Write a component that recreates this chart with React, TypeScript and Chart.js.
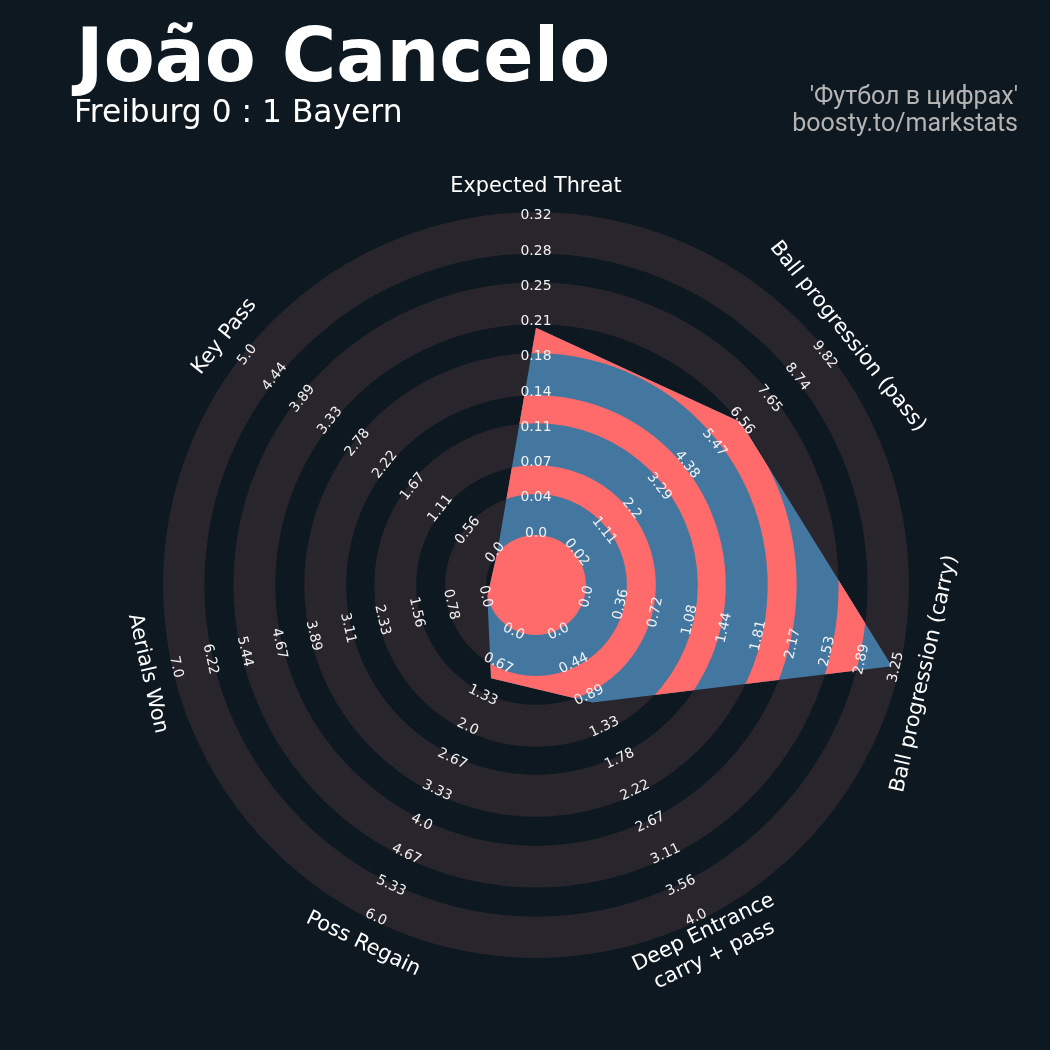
import React, { useEffect, useRef } from "react";
import { Chart, registerables } from "chart.js";

Chart.register(...registerables);

// ---- data ----
const PARAMS = [
  "Expected Threat",
  "Ball progression (pass)",
  "Ball progression (carry)",
  "Deep Entrance\ncarry + pass",
  "Poss Regain",
  "Aerials Won",
  "Key Pass",
];
const VALUES = [0.206, 6.46, 3.18, 1.0, 1.0, 0, 0];
const RANGE_MIN = [0, 0.02, 0, 0, 0, 0, 0];
const RANGE_MAX = [0.32, 9.82, 3.25, 4.0, 6.0, 7.0, 5.0];

const XT_TICKS = ["0.0", "0.04", "0.07", "0.11", "0.14", "0.18", "0.21", "0.25", "0.28", "0.32"];
const PASS_TICKS = ["0.02", "1.11", "2.2", "3.29", "4.38", "5.47", "6.56", "7.65", "8.74", "9.82"];
const CARRY_TICKS = ["0.0", "0.36", "0.72", "1.08", "1.44", "1.81", "2.17", "2.53", "2.89", "3.25"];
const DEEP_TICKS = ["0.0", "0.44", "0.89", "1.33", "1.78", "2.22", "2.67", "3.11", "3.56", "4.0"];
const REGAIN_TICKS = ["0.0", "0.67", "1.33", "2.0", "2.67", "3.33", "4.0", "4.67", "5.33", "6.0"];
const AERIAL_TICKS = ["0.0", "0.78", "1.56", "2.33", "3.11", "3.89", "4.67", "5.44", "6.22", "7.0"];
const KEYPASS_TICKS = ["0.0", "0.56", "1.11", "1.67", "2.22", "2.78", "3.33", "3.89", "4.44", "5.0"];
const TICKS = [XT_TICKS, PASS_TICKS, CARRY_TICKS, DEEP_TICKS, REGAIN_TICKS, AERIAL_TICKS, KEYPASS_TICKS];

const TITLE = "João Cancelo";
const SUBTITLE = "Freiburg 0 : 1 Bayern";
const CREDITS = ["'Футбол в цифрах'", "boosty.to/markstats"];

// ---- geometry / style ----
const BG = "#0e1820";
const GRAY = "#28252c";
const RED = "#ff6b6b";
const BLUE = "#43779f";
const OUTER = 373.5;
const INNER = 50;
const SPAN = 322.5;
const TICK_START = 52;
const TICK_STEP = 35.3;
const GRAY_RINGS: number[][] = [[50, 91], [120, 162], [190, 232], [261, 303], [332, 373.5]];
const RED_RINGS: number[][] = [[0, 50], [91, 120], [162, 190], [232, 261], [303, 332]];

function toRadius(i: number, v: number) {
  return INNER + ((v - RANGE_MIN[i]) / (RANGE_MAX[i] - RANGE_MIN[i])) * SPAN;
}

function ring(ctx: CanvasRenderingContext2D, s: any, a: number, b: number) {
  ctx.beginPath();
  ctx.arc(s.xCenter, s.yCenter, s.getDistanceFromCenterForValue(b), 0, Math.PI * 2);
  if (a > 0) {
    ctx.arc(s.xCenter, s.yCenter, s.getDistanceFromCenterForValue(a), 0, Math.PI * 2, true);
  }
  ctx.closePath();
  ctx.fill();
}

function drawAxisText(
  ctx: CanvasRenderingContext2D,
  s: any,
  i: number,
  r: number,
  lines: string[],
  font: string,
  size: number,
  color: string
) {
  const angle = s.getIndexAngle(i);
  const p = s.getPointPosition(i, s.getDistanceFromCenterForValue(r));
  let rot = angle;
  if (angle > Math.PI / 2 && angle < (3 * Math.PI) / 2) rot = angle - Math.PI;
  ctx.save();
  ctx.translate(p.x, p.y);
  ctx.rotate(rot);
  ctx.font = font;
  ctx.fillStyle = color;
  ctx.textAlign = "center";
  ctx.textBaseline = "alphabetic";
  const lh = size * 1.2;
  const n = lines.length;
  lines.forEach((ln, j) => {
    ctx.fillText(ln, 0, (j - (n - 1) / 2) * lh + 0.26 * size);
  });
  ctx.restore();
}

const radarPlugin = {
  id: "mplRadar",
  beforeDatasetsDraw(chart: any) {
    const s = chart.scales.r;
    const ctx = chart.ctx as CanvasRenderingContext2D;
    ctx.save();
    ctx.fillStyle = GRAY;
    GRAY_RINGS.forEach(([a, b]) => ring(ctx, s, a, b));
    ctx.restore();
  },
  afterDatasetsDraw(chart: any) {
    const s = chart.scales.r;
    const ctx = chart.ctx as CanvasRenderingContext2D;
    const meta = chart.getDatasetMeta(0);
    ctx.save();
    ctx.beginPath();
    meta.data.forEach((pt: any, k: number) => {
      if (k === 0) ctx.moveTo(pt.x, pt.y);
      else ctx.lineTo(pt.x, pt.y);
    });
    ctx.closePath();
    ctx.clip();
    ctx.fillStyle = RED;
    RED_RINGS.forEach(([a, b]) => ring(ctx, s, a, b));
    ctx.restore();

    // range labels
    const tickSize = 13.9;
    TICKS.forEach((ticks, i) => {
      ticks.forEach((t, k) => {
        const r = TICK_START + k * TICK_STEP;
        drawAxisText(ctx, s, i, r, [t], `${tickSize}px 'DejaVu Sans'`, tickSize, "#f2f2f2");
      });
    });
    // parameter labels
    const pSize = 20.8;
    PARAMS.forEach((p, i) => {
      drawAxisText(ctx, s, i, 399, p.split("\n"), `${pSize}px 'DejaVu Sans'`, pSize, "#ffffff");
    });
  },
  afterDraw(chart: any) {
    const ctx = chart.ctx as CanvasRenderingContext2D;
    ctx.save();
    ctx.fillStyle = "#ffffff";
    ctx.textAlign = "left";
    ctx.textBaseline = "alphabetic";
    ctx.font = "bold 74.3px 'DejaVu Sans'";
    ctx.fillText(TITLE, 76, 81);
    ctx.font = "31.3px 'DejaVu Sans'";
    ctx.fillText(SUBTITLE, 74, 122);
    ctx.fillStyle = "#b4b4b4";
    ctx.textAlign = "right";
    ctx.font = "25px Roboto";
    ctx.fillText(CREDITS[0], 1018, 104);
    ctx.fillText(CREDITS[1], 1018, 131);
    ctx.restore();
  },
};

export default function App() {
  const ref = useRef<HTMLCanvasElement | null>(null);
  useEffect(() => {
    if (!ref.current) return;
    const chart = new Chart(ref.current, {
      type: "radar",
      data: {
        labels: PARAMS,
        datasets: [
          {
            data: VALUES.map((v, i) => toRadius(i, v)),
            backgroundColor: BLUE,
            borderColor: "rgba(0,0,0,0)",
            borderWidth: 0,
            pointRadius: 0,
            pointHoverRadius: 0,
            fill: "origin",
            tension: 0,
          } as any,
        ],
      },
      options: {
        responsive: false,
        animation: false,
        events: [],
        layout: { padding: { left: 163, right: 140, top: 212, bottom: 91 } },
        plugins: {
          legend: { display: false },
          tooltip: { enabled: false },
          title: { display: false },
        },
        scales: {
          r: {
            min: 0,
            max: OUTER,
            grid: { display: false },
            angleLines: { display: false },
            ticks: { display: false },
            pointLabels: { display: false },
          },
        },
      } as any,
      plugins: [radarPlugin],
    });
    return () => chart.destroy();
  }, []);
  return (
    <div style={{ position: "absolute", left: 0, top: 0, width: 1050, height: 1050, background: BG }}>
      <canvas ref={ref} width={1050} height={1050} style={{ display: "block" }} />
    </div>
  );
}
